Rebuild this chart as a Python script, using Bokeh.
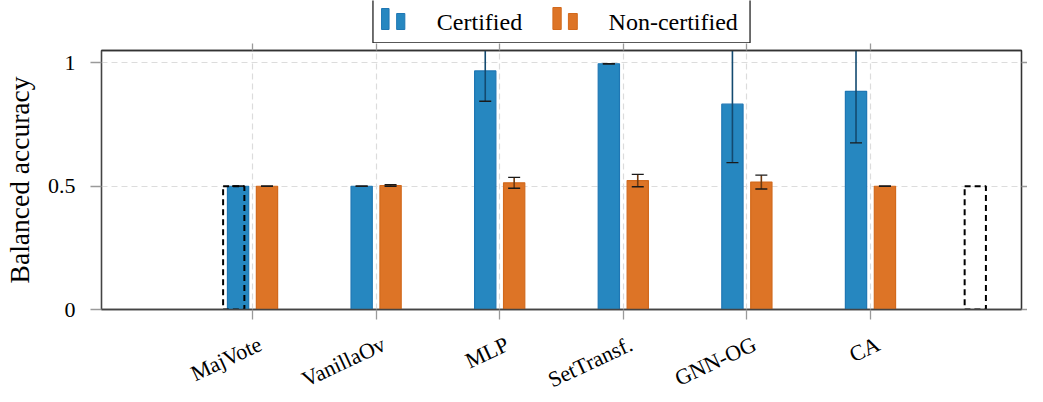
from math import pi
from bokeh.plotting import figure
from bokeh.models import ColumnDataSource, Range1d, FixedTicker, LinearAxis
from bokeh.transform import dodge
from bokeh.layouts import column
from bokeh.embed import file_html
from bokeh.resources import INLINE
from bokeh.core.properties import value

# ---------------- data ----------------
methods = ["MajVote", "VanillaOv", "MLP", "SetTransf.", "GNN-OG", "CA"]
positions = [1, 2, 3, 4, 5, 6]
cert_mean = [0.50, 0.50, 0.968, 0.997, 0.833, 0.885]
cert_err = [0.0, 0.0, 0.123, 0.0, 0.237, 0.209]
noncert_mean = [0.50, 0.503, 0.514, 0.523, 0.517, 0.50]
noncert_err = [0.0, 0.003, 0.022, 0.025, 0.028, 0.0]
ghost_pos = [1, 7]
ghost_val = [0.5, 0.5]
y_ticks = [0, 0.5, 1]
y_tick_labels = {0: "0", 0.5: "0.5", 1: "1"}
series_names = ["Certified", "Non-certified"]

FONT = "Liberation Serif"
BLUE, BLUE_EDGE, BLUE_ERR = "#2687c0", "#1f77b4", "#134a70"
ORANGE, ORANGE_EDGE, ORANGE_ERR = "#dd7426", "#d2691c", "#6e3a10"
GRID = "#dcdcdc"
TICK = "#9a9a9a"

src = ColumnDataSource(dict(
    x=positions,
    name=methods,
    c=cert_mean,
    c_lo=[m - e for m, e in zip(cert_mean, cert_err)],
    c_hi=[m + e for m, e in zip(cert_mean, cert_err)],
    n=noncert_mean,
    n_lo=[m - e for m, e in zip(noncert_mean, noncert_err)],
    n_hi=[m + e for m, e in zip(noncert_mean, noncert_err)],
))
gsrc = ColumnDataSource(dict(x=ghost_pos, top=ghost_val))

W = 1027
LEG_H = 43
MAIN_H = 278
LAB_H = 73
FRAME_L, FRAME_R = 89, 1021   # canvas px of the plot frame (layout only)

xr = Range1d(-0.222, 7.222)
yr = Range1d(0, 1.0507)

p = figure(width=W, height=MAIN_H, x_range=xr, y_range=yr,
           output_backend="svg", toolbar_location=None,
           min_border_left=FRAME_L, min_border_right=W - FRAME_R, min_border_top=7,
           min_border_bottom=12, background_fill_color="white",
           border_fill_color="white")
p.outline_line_color = "#333333"
p.outline_line_width = 1.3

# grids
p.xgrid.ticker = FixedTicker(ticks=positions)
p.ygrid.ticker = FixedTicker(ticks=y_ticks)
for g in (p.xgrid, p.ygrid):
    g.grid_line_color = GRID
    g.grid_line_dash = "6 4"
    g.grid_line_width = 1.2

# bottom axis: ticks only, category names are drawn in the strip below
xa = p.xaxis[0]
xa.ticker = FixedTicker(ticks=positions)
xa.major_label_text_color = None
xa.major_label_text_font_size = "1px"
xa.major_label_standoff = 0
xa.major_tick_out = 10
xa.major_tick_in = 0
xa.minor_tick_out = 0
xa.minor_tick_in = 0
xa.major_tick_line_color = TICK
xa.major_tick_line_width = 1.3
xa.axis_line_color = "#444444"
xa.axis_line_width = 1.3

# left axis
ya = p.yaxis[0]
ya.ticker = FixedTicker(ticks=y_ticks)
ya.major_label_overrides = y_tick_labels
ya.major_label_text_font = FONT
ya.major_label_text_font_size = "22px"
ya.major_label_text_color = "black"
ya.major_label_standoff = 15
ya.major_tick_out = 11
ya.major_tick_in = 0
ya.minor_tick_out = 0
ya.minor_tick_in = 0
ya.major_tick_line_color = TICK
ya.major_tick_line_width = 1.3
ya.axis_line_color = "#444444"
ya.axis_line_width = 1.3
ya.axis_label = "Balanced accuracy"
ya.axis_label_text_font = FONT
ya.axis_label_text_font_size = "27.5px"
ya.axis_label_text_font_style = "normal"
ya.axis_label_text_color = "black"
ya.axis_label_standoff = 10

# top and right tick-only axes (labels not drawn)
def tick_axis(ticks, out):
    return LinearAxis(ticker=FixedTicker(ticks=ticks), major_label_text_font_size="1px",
                      major_label_text_color=None, major_label_standoff=0,
                      major_tick_out=out, major_tick_in=0,
                      minor_tick_out=0, minor_tick_in=0, major_tick_line_color=TICK,
                      major_tick_line_width=1.3, axis_line_color="#333333",
                      axis_line_width=1.3)

p.add_layout(tick_axis(positions, 7), "above")
p.add_layout(tick_axis(y_ticks, 6), "right")

BW = 0.172
OFF = 0.117
# bars
p.vbar(x=dodge("x", -OFF, range=xr), top="c", bottom=0, width=BW, source=src,
       fill_color=BLUE, line_color=BLUE_EDGE, line_width=1.2)
p.vbar(x=dodge("x", OFF, range=xr), top="n", bottom=0, width=BW, source=src,
       fill_color=ORANGE, line_color=ORANGE_EDGE, line_width=1.2)

# error bars
p.segment(x0=dodge("x", -OFF, range=xr), x1=dodge("x", -OFF, range=xr),
          y0="c_lo", y1="c_hi", source=src, line_color=BLUE_ERR, line_width=1.6)
p.segment(x0=dodge("x", OFF, range=xr), x1=dodge("x", OFF, range=xr),
          y0="n_lo", y1="n_hi", source=src, line_color=ORANGE_ERR, line_width=1.6)
for col, off in (("c_lo", -OFF), ("c_hi", -OFF), ("n_lo", OFF), ("n_hi", OFF)):
    p.scatter(x=dodge("x", off, range=xr), y=col, source=src, marker="dash",
              size=12, line_color="#1a1a1a", line_width=1.4)

# dashed placeholder bars
p.vbar(x=dodge("x", -0.152, range=xr), top="top", bottom=0, width=BW, source=gsrc,
       fill_color=None, line_color="black", line_width=2, line_dash="6 4")

# ---------------- category label strip (shares the x scale, frame aligned) ----------------
lab = figure(width=W, height=LAB_H, x_range=xr, y_range=Range1d(0, LAB_H),
             output_backend="svg", toolbar_location=None,
             min_border=0, min_border_left=FRAME_L, min_border_right=W - FRAME_R,
             background_fill_color="white", border_fill_color="white")
lab.axis.visible = False
lab.grid.visible = False
lab.outline_line_color = None
lab.text(x=dodge("x", 0.02, range=xr), y=LAB_H - 10, text="name", source=src,
         angle=25 * pi / 180, text_align="right", text_baseline="top",
         text_font=value(FONT), text_font_size="22px", text_color="black")

# ---------------- legend strip (its frame is aligned with the plot frame) ----------------
lg = figure(width=W, height=LEG_H, x_range=Range1d(FRAME_L, FRAME_R),
            y_range=Range1d(0, LEG_H), output_backend="svg", toolbar_location=None,
            min_border=0, min_border_left=FRAME_L, min_border_right=W - FRAME_R,
            background_fill_color="white", border_fill_color="white")
lg.axis.visible = False
lg.grid.visible = False
lg.outline_line_color = None
lg.quad(left=[364], right=[746], bottom=[0.7], top=[60], fill_color="white",
        line_color="#222222", line_width=1.3)
# icons: two small bars each
lg.quad(left=[372.7, 388.0], right=[380.3, 396.3], bottom=[14, 14], top=[35, 30],
        fill_color=BLUE, line_color=BLUE_EDGE, line_width=1)
lg.quad(left=[546.3, 562.0], right=[554.7, 571.0], bottom=[14, 14], top=[36, 30],
        fill_color=ORANGE, line_color=ORANGE_EDGE, line_width=1)
lg.text(x=[428.7, 602.7], y=[21.5, 21.5], text=series_names, text_font=value(FONT),
        text_font_size="24px", text_baseline="alphabetic", text_align="left",
        text_color="black")

layout = column(lg, p, lab, spacing=0)
open("out.html", "w").write(file_html(layout, INLINE))
